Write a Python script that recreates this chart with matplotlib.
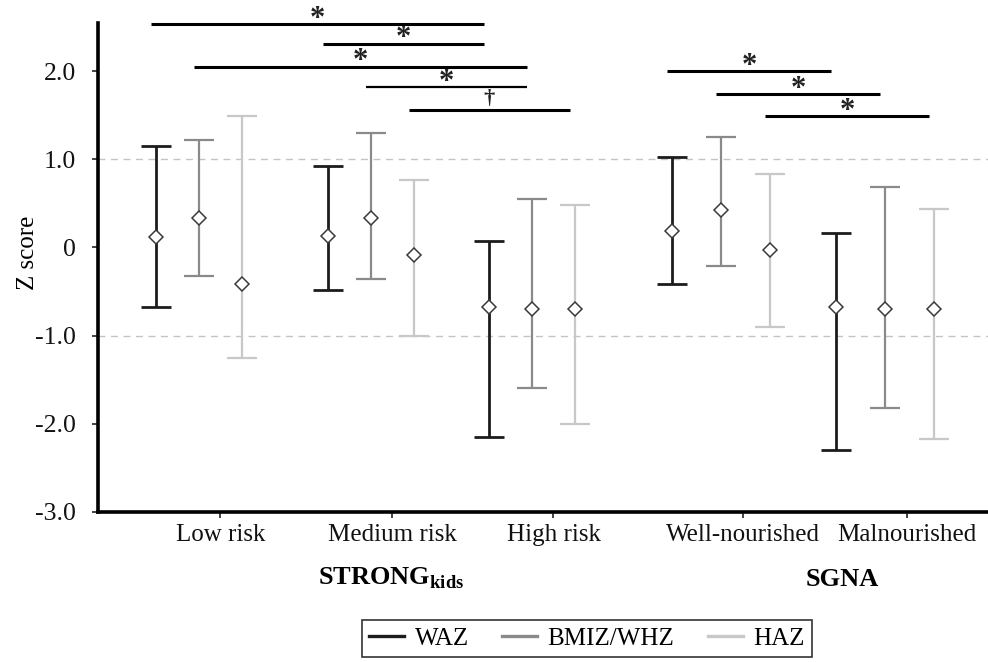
import matplotlib
matplotlib.use("Agg")
import matplotlib.pyplot as plt
from matplotlib.lines import Line2D
import numpy as np

plt.rcParams["font.family"] = ["Liberation Serif", "DejaVu Serif"]
plt.rcParams["mathtext.fontset"] = "custom"
plt.rcParams["mathtext.rm"] = "Liberation Serif"
plt.rcParams["mathtext.bf"] = "Liberation Serif:bold"

CATEGORIES = ["Low risk", "Medium risk", "High risk", "Well-nourished", "Malnourished"]
SERIES = ["WAZ", "BMIZ/WHZ", "HAZ"]

# mean z score per category, one list per series
WAZ_MEAN = [0.12, 0.13, -0.67, 0.19, -0.67]
BMIZ_MEAN = [0.33, 0.33, -0.70, 0.42, -0.70]
HAZ_MEAN = [-0.42, -0.09, -0.70, -0.03, -0.70]

# upper / lower ends of the error bars
WAZ_HIGH = [1.15, 0.92, 0.07, 1.02, 0.16]
WAZ_LOW = [-0.68, -0.48, -2.15, -0.42, -2.30]
BMIZ_HIGH = [1.22, 1.30, 0.55, 1.25, 0.68]
BMIZ_LOW = [-0.32, -0.36, -1.59, -0.21, -1.82]
HAZ_HIGH = [1.49, 0.77, 0.48, 0.83, 0.44]
HAZ_LOW = [-1.25, -1.00, -2.00, -0.90, -2.17]

# significance brackets: (category a, category b, series index, z level, mark)
SIG_CAT_A = [0, 1, 0, 1, 1, 3, 3, 3]
SIG_CAT_B = [2, 2, 2, 2, 2, 4, 4, 4]
SIG_SERIES = [0, 0, 1, 1, 2, 0, 1, 2]
SIG_LEVEL = [2.53, 2.31, 2.05, 1.82, 1.56, 2.00, 1.74, 1.49]
SIG_MARK = ["*", "*", "*", "*", "\u2020", "*", "*", "*"]

# layout
GROUP_X = np.array([0.587, 1.587, 2.523, 3.622, 4.576])
SERIES_STEP = np.array([0.25, 0.25, 0.25, 0.285, 0.285])
TICK_SHIFT = 0.125
COLORS = ["#1c1c1c", "#8a8a8a", "#c8c8c8"]
LINE_W = [2.0, 1.6, 1.6]
SIG_W = [2.2, 2.2, 2.2, 1.6, 2.2, 2.2, 2.2, 2.2]

means = [WAZ_MEAN, BMIZ_MEAN, HAZ_MEAN]
highs = [WAZ_HIGH, BMIZ_HIGH, HAZ_HIGH]
lows = [WAZ_LOW, BMIZ_LOW, HAZ_LOW]


def series_x(j):
    return GROUP_X + (j - 1) * SERIES_STEP


fig = plt.figure(figsize=(9.88, 6.62), dpi=100)
ax = fig.add_axes([0.0992, 0.2266, 0.9008, 0.7393])

for j in range(3):
    x = series_x(j)
    m = np.array(means[j])
    yerr = np.vstack([m - np.array(lows[j]), np.array(highs[j]) - m])
    ax.errorbar(x, m, yerr=yerr, fmt="none", ecolor=COLORS[j],
                elinewidth=LINE_W[j], capsize=11, capthick=LINE_W[j], zorder=3)
    ax.plot(x, m, linestyle="none", marker="D", markersize=7,
            markerfacecolor="white", markeredgecolor="#3a3a3a",
            markeredgewidth=1.1, zorder=4)

for level in (1.0, -1.0):
    ax.axhline(level, color="#c4c4c4", linestyle=(0, (5, 4)), linewidth=1.0, zorder=1)

for a, b, s, lev, mark, w in zip(SIG_CAT_A, SIG_CAT_B, SIG_SERIES, SIG_LEVEL, SIG_MARK, SIG_W):
    xs = series_x(s)
    x0, x1 = xs[a] - 0.03, xs[b] - 0.03
    ax.plot([x0, x1], [lev, lev], color="black", linewidth=w,
            solid_capstyle="butt", clip_on=False, zorder=5)
    if mark == "*":
        ax.text((x0 + x1) / 2, lev - 0.11, mark, ha="center", va="bottom",
                fontsize=22, fontweight="bold", color="#222222", clip_on=False)
    else:
        ax.text((x0 + x1) / 2, lev + 0.01, mark, ha="center", va="bottom",
                fontsize=16, fontweight="bold", color="#222222", clip_on=False)

ax.set_xlim(0, 5.174)
ax.set_ylim(-3.0, 2.55)
ax.set_yticks([-3, -2, -1, 0, 1, 2])
ax.set_yticklabels(["-3.0", "-2.0", "-1.0", "0", "1.0", "2.0"], fontsize=18.5)
ax.set_xticks(GROUP_X + TICK_SHIFT)
ax.set_xticklabels(CATEGORIES, fontsize=18)
ax.tick_params(axis="both", direction="out", length=4, width=1.2, colors="#222222",
               labelcolor="#111111")
ax.tick_params(axis="x", pad=5)
ax.tick_params(axis="y", pad=12)

for side in ("top", "right"):
    ax.spines[side].set_visible(False)
for side in ("left", "bottom"):
    ax.spines[side].set_linewidth(2.6)
    ax.spines[side].set_color("black")

ax.set_ylabel("Z score", fontsize=18)
ax.yaxis.set_label_coords(-0.066, 0.53)

fig.text(0.396, 0.127, r"STRONG$_{\mathbf{kids}}$", ha="center", va="center",
         fontsize=19, fontweight="bold")
fig.text(0.853, 0.124, "SGNA", ha="center", va="center", fontsize=19, fontweight="bold")

handles = [Line2D([0], [0], color=COLORS[j], linewidth=2.4) for j in range(3)]
fig.legend(handles, SERIES, loc="lower center", bbox_to_anchor=(0.594, -0.012),
           ncol=3, frameon=True, fancybox=False, edgecolor="black", fontsize=18,
           handlelength=1.4, columnspacing=1.35, handletextpad=0.4,
           borderpad=0.3, borderaxespad=0.5).get_frame().set_linewidth(1.2)

fig.savefig("out.png", dpi=100)
